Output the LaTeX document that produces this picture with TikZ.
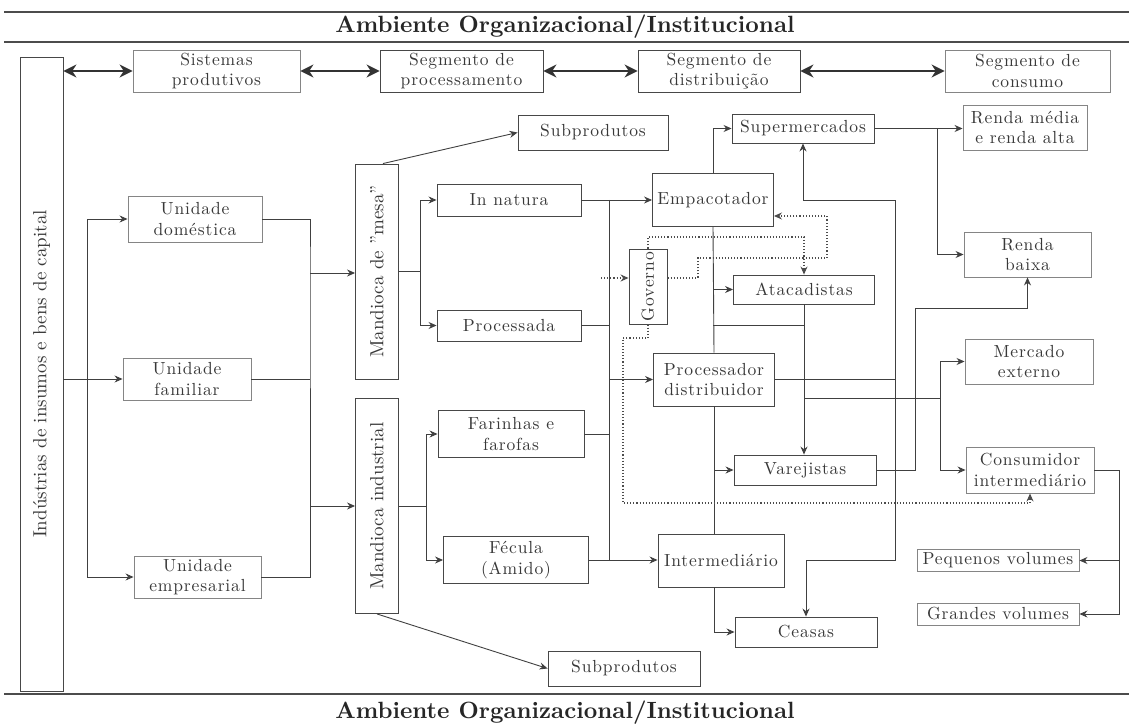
\documentclass[tikz,border=0pt]{standalone}
\usepackage{fontspec}
\setmainfont{lmroman10-regular.otf}[BoldFont=lmroman10-bold.otf]
\newfontfamily\spaced{lmroman10-regular.otf}[LetterSpace=5]
\usepackage{graphicx}
\usetikzlibrary{arrows.meta}

\tikzset{
  box/.style={draw=black!72, line width=0.9pt, inner sep=2pt, align=center,
    text=black!78, font=\spaced\fontsize{17.5}{20.5}\selectfont},
  faint/.style={box, draw=black!48},
  link/.style={draw=black!75, line width=0.9pt},
  arr/.style={link, -{Stealth[length=8pt,width=7pt]}},
  dbl/.style={draw=black!80, line width=1.3pt,
    {Stealth[length=13pt,width=13pt]}-{Stealth[length=13pt,width=13pt]}},
  dots/.style={draw=black!70, line width=1.1pt, dotted,
    -{Stealth[length=8pt,width=7pt]}},
  rule/.style={draw=black!70, line width=1.2pt},
  heading/.style={text=black!85, font=\bfseries\fontsize{23.5}{26}\selectfont},
}

\begin{document}
\begin{tikzpicture}[x=1pt,y=-1pt]
\useasboundingbox (0,0) rectangle (1129,727);

% framing rules and headings
\coordinate (L) at (4,0);
\coordinate (R) at (1129,0);
\draw[rule] (L |- 0,12) -- (R |- 0,12);
\draw[rule] (L |- 0,42) -- (R |- 0,42);
\draw[rule] (L |- 0,694) -- (R |- 0,694);
\node[heading] (topHead) at (565,27) {Ambiente Organizacional/Institucional};
\node[heading] (botHead) at (565,713) {Ambiente Organizacional/Institucional};

% input industries
\node[box, minimum width=43, minimum height=634, font=\fontsize{19}{22}\selectfont]
  (ind) at (41.5,374) {\rotatebox{90}{Indústrias de insumos e bens de capital}};

% chain segments
\node[faint, minimum width=167, minimum height=42] (sis)  at (216.5,71) {Sistemas\\produtivos};
\node[box,   minimum width=163, minimum height=42] (proc) at (461.5,71) {Segmento de\\processamento};
\node[box,   minimum width=162, minimum height=42] (dist) at (719,71)   {Segmento de\\distribuição};
\node[faint, minimum width=165, minimum height=42] (cons) at (1027.5,71) {Segmento de\\consumo};

% production units
\node[faint, minimum width=134, minimum height=46] (dom)  at (195,219)   {Unidade\\doméstica};
\node[faint, minimum width=128, minimum height=42] (fam)  at (187,379)   {Unidade\\familiar};
\node[faint, minimum width=127, minimum height=42] (empr) at (197.5,577) {Unidade\\empresarial};

% cassava types
\node[box, minimum width=43, minimum height=215, font=\fontsize{19}{22}\selectfont]
  (mesa) at (377,271.5) {\rotatebox{90}{Mandioca de "mesa”}};
\node[box, minimum width=43, minimum height=215, font=\fontsize{19}{22}\selectfont]
  (indus) at (377,506) {\rotatebox{90}{Mandioca industrial}};

\node[box, minimum width=150, minimum height=35] (sub1) at (593,132.5) {Subprodutos};
\node[box, minimum width=152, minimum height=35] (sub2) at (624,668.5) {Subprodutos};

% products
\node[box, minimum width=144, minimum height=32] (innat) at (509,200)   {In natura};
\node[box, minimum width=144, minimum height=31] (procs) at (509,325.5) {Processada};
\node[box, minimum width=146, minimum height=47] (far)   at (511,434)   {Farinhas e\\farofas};
\node[box, minimum width=145, minimum height=47] (fec)   at (516,560)   {Fécula\\(Amido)};

% agents
\node[box, minimum width=121, minimum height=53] (empac)  at (713,200)   {Empacotador};
\node[box, minimum width=142, minimum height=29] (super)  at (803,128.5) {Supermercados};
\node[box, minimum width=38,  minimum height=75] (gov)    at (648,286.5) {\rotatebox{90}{Governo}};
\node[box, minimum width=141, minimum height=29] (ata)    at (804,289.5) {Atacadistas};
\node[box, minimum width=121, minimum height=53] (procd)  at (714,379.5) {Processador\\distribuidor};
\node[box, minimum width=142, minimum height=30] (varej)  at (805,470)   {Varejistas};
\node[box, minimum width=126, minimum height=53] (inter)  at (721,560.5) {Intermediário};
\node[box, minimum width=142, minimum height=30] (ceasas) at (806,632)   {Ceasas};

% markets
\node[faint, minimum width=124, minimum height=45] (rmed) at (1025,127.5)  {Renda média\\e renda alta};
\node[faint, minimum width=127, minimum height=45] (rbai) at (1027.5,254.5) {Renda\\baixa};
\node[faint, minimum width=128, minimum height=45] (mext) at (1029,361.5)  {Mercado\\externo};
\node[faint, minimum width=128, minimum height=46] (cint) at (1030,470)    {Consumidor\\intermediário};
\node[faint, minimum width=162, minimum height=22] (peq)  at (998,560.5)   {Pequenos volumes};
\node[faint, minimum width=162, minimum height=22] (gra)  at (998,614)     {Grandes volumes};

% chain segment links
\draw[dbl] (sis.west -| ind.east) -- (sis.west);
\draw[dbl] (sis.east) -- (proc.west);
\draw[dbl] (proc.east) -- (dist.west);
\draw[dbl] (dist.east) -- (cons.west);

% industries to production units
\coordinate (jL) at (87,380);
\draw[arr] (fam.west -| ind.east) -- (fam.west);
\draw[arr] (jL) |- (dom.west);
\draw[arr] (jL) |- (empr.west);

% production units to cassava types
\coordinate (jR1) at (310,273);
\coordinate (jR2) at (310,506);
\draw[link] (dom.east) -| (jR1) -- (jR2);
\draw[link] (empr.east) -| (jR2);
\draw[link] (fam.east) -- (fam.east -| jR1);
\draw[arr] (jR1) -- (jR1 -| mesa.west);
\draw[arr] (jR2) -- (jR2 -| indus.west);

% cassava types to products
\draw[arr] ([xshift=6]mesa.north) -- (sub1.west);
\draw[arr] (indus.south) -- (sub2.west);
\coordinate (jM) at (420,271.5);
\draw[link] (mesa.east) -- (jM);
\draw[arr] (jM) |- (innat.west);
\draw[arr] (jM) |- (procs.west);
\coordinate (jI) at (426,506);
\draw[link] (indus.east) -- (jI);
\draw[arr] (jI) |- (far.west);
\draw[arr] (jI) |- (fec.west);

% products collector
\coordinate (cx) at (609,380);
\draw[arr] (innat.east) -- (empac.west);
\draw[link] (cx |- innat.east) -- (cx |- fec.east);
\draw[link] (procs.east) -- (procs.east -| cx);
\draw[link] (far.east) -- (far.east -| cx);
\draw[arr] (procd.west -| cx) -- (procd.west);
\draw[arr] (fec.east) -- (fec.east -| inter.west);

% distribution flows
\draw[arr] (empac.north) |- (super.west);
\draw[link] (empac.south) -- (procd.north);
\draw[arr] (ata.west -| empac.south) -- (ata.west);
\draw[link] (empac.south |- procs.east) -- (ata.south |- procs.east);
\draw[arr] (ata.south) -- (ata.south |- varej.north);
\coordinate (jE) at (940,398);
\draw[link] (ata.south |- jE) -- (jE);
\draw[arr] (jE) |- (mext.west);
\draw[arr] (jE) |- (cint.west);

\coordinate (jS) at (895,380);
\coordinate (jS2) at (895,200);
\coordinate (jS3) at (895,560);
\draw[link] (procd.east) -- (procd.east -| jS);
\draw[arr] (jS) -- (jS2) -| (super.south);
\draw[arr] (jS) -- (jS3) -| (ceasas.north);

\draw[link] (procd.south) -- (procd.south |- inter.north);
\draw[arr] (varej.west -| procd.south) -- (varej.west);
\draw[arr] (inter.south -| procd.south) |- (ceasas.west);

\coordinate (jV) at (915,308);
\draw[arr] (varej.east) -| (jV) -| (rbai.south);

% consumer markets
\coordinate (jB) at (937,128.5);
\draw[arr] (super.east) -- (super.east -| rmed.west);
\draw[arr] (jB) |- (rbai.west);
\coordinate (jC) at (1119,470);
\draw[arr] (cint.east) -- (jC) |- (gra.east);
\draw[arr] (jC |- peq.east) -- (peq.east);

% government influence (dotted)
\coordinate (gin) at (601,278);
\coordinate (d1) at (647,237);
\coordinate (d2) at (698,258);
\coordinate (d3) at (827,216);
\coordinate (d4) at (623,338);
\coordinate (d5) at (623,503);
\draw[dots] (gin) -- (gov.west |- gin);
\draw[dots] (gov.north) |- (ata.north |- d1) -- (ata.north);
\draw[dots] (gov.east |- gin) -| (d2) -| (d3) -- (d3 -| empac.east);
\draw[dots] (gov.south) |- (d4) -- (d5) -| (cint.south);
\end{tikzpicture}
\end{document}
